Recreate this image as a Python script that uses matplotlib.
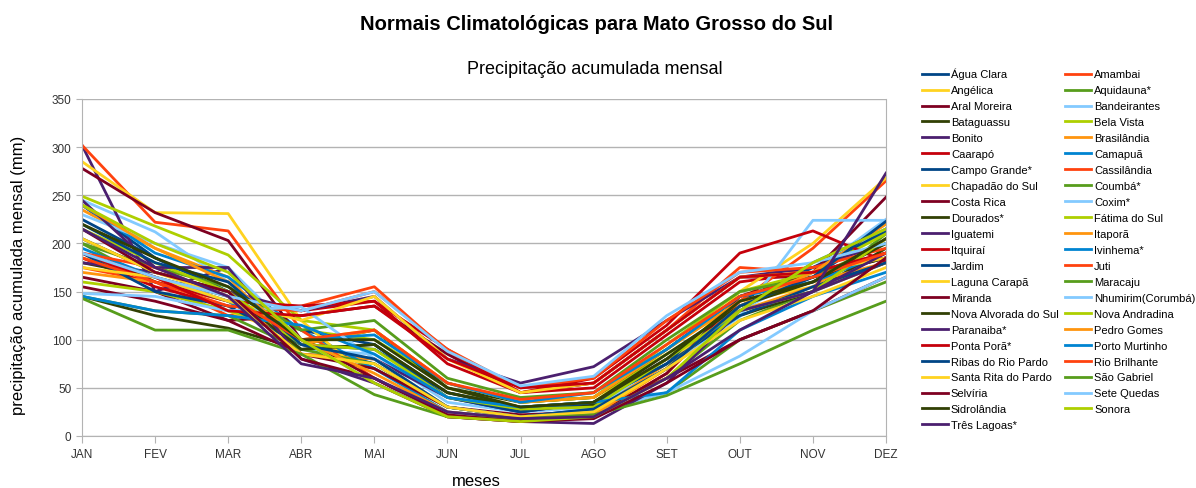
import matplotlib
matplotlib.use("Agg")
import matplotlib.pyplot as plt

plt.rcParams["font.family"] = ["Liberation Sans", "DejaVu Sans"]

meses = ["JAN", "FEV", "MAR", "ABR", "MAI", "JUN", "JUL", "AGO", "SET", "OUT", "NOV", "DEZ"]

estacoes = [
    "Água Clara", "Amambai", "Angélica", "Aquidauna*", "Aral Moreira", "Bandeirantes",
    "Bataguassu", "Bela Vista", "Bonito", "Brasilândia", "Caarapó", "Camapuã",
    "Campo Grande*", "Cassilândia", "Chapadão do Sul", "Coumbá*", "Costa Rica", "Coxim*",
    "Dourados*", "Fátima do Sul", "Iguatemi", "Itaporã", "Itquiraí", "Ivinhema*",
    "Jardim", "Juti", "Laguna Carapã", "Maracaju", "Miranda", "Nhumirim(Corumbá)",
    "Nova Alvorada do Sul", "Nova Andradina", "Paranaiba*", "Pedro Gomes", "Ponta Porã*",
    "Porto Murtinho", "Ribas do Rio Pardo", "Rio Brilhante", "Santa Rita do Pardo",
    "São Gabriel", "Selvíria", "Sete Quedas", "Sidrolândia", "Sonora", "Três Lagoas*",
]

# precipitação mensal (mm)
precip = [
    [240, 185, 150, 95, 75, 30, 20, 28, 70, 135, 165, 215],
    [175, 160, 125, 135, 155, 88, 45, 55, 110, 175, 170, 190],
    [185, 165, 130, 100, 110, 50, 30, 35, 90, 140, 155, 180],
    [200, 160, 140, 100, 70, 30, 20, 25, 60, 120, 150, 210],
    [165, 150, 120, 125, 135, 85, 45, 55, 110, 165, 165, 185],
    [245, 212, 160, 90, 85, 35, 25, 30, 75, 130, 170, 225],
    [145, 125, 112, 90, 95, 45, 28, 32, 80, 125, 150, 195],
    [160, 150, 130, 110, 100, 55, 35, 40, 85, 130, 150, 180],
    [302, 150, 175, 85, 80, 40, 25, 35, 80, 130, 150, 180],
    [235, 195, 165, 85, 80, 30, 20, 25, 75, 130, 155, 205],
    [185, 155, 135, 130, 140, 75, 45, 50, 105, 160, 170, 185],
    [240, 190, 165, 110, 70, 25, 18, 25, 70, 130, 180, 215],
    [225, 185, 150, 110, 95, 40, 25, 35, 75, 140, 175, 212],
    [302, 222, 213, 110, 60, 20, 15, 20, 65, 140, 195, 265],
    [285, 232, 231, 120, 55, 20, 18, 22, 70, 150, 200, 268],
    [145, 130, 125, 90, 75, 30, 20, 25, 45, 100, 130, 160],
    [278, 232, 203, 100, 60, 20, 15, 20, 65, 145, 170, 248],
    [230, 200, 175, 100, 55, 22, 18, 25, 70, 124, 224, 224],
    [180, 165, 145, 95, 110, 50, 35, 40, 90, 145, 165, 185],
    [249, 218, 188, 120, 110, 55, 35, 40, 95, 150, 170, 210],
    [180, 170, 150, 130, 145, 80, 55, 72, 120, 165, 175, 200],
    [170, 160, 140, 95, 110, 55, 35, 40, 90, 140, 160, 180],
    [190, 160, 140, 135, 140, 90, 45, 60, 115, 190, 213, 181],
    [195, 165, 140, 100, 105, 55, 35, 45, 90, 145, 160, 190],
    [190, 150, 135, 95, 90, 45, 30, 35, 75, 125, 155, 180],
    [185, 160, 135, 130, 150, 90, 50, 60, 120, 170, 175, 195],
    [175, 165, 140, 120, 145, 80, 45, 55, 110, 165, 170, 185],
    [200, 175, 155, 110, 120, 60, 40, 45, 100, 150, 165, 200],
    [155, 140, 120, 85, 70, 30, 22, 25, 60, 100, 130, 165],
    [148, 145, 130, 134, 80, 30, 20, 25, 45, 83, 130, 165],
    [205, 170, 150, 90, 95, 45, 30, 35, 85, 135, 160, 200],
    [215, 180, 150, 95, 90, 40, 28, 30, 80, 130, 150, 205],
    [245, 175, 175, 80, 55, 20, 15, 13, 55, 130, 150, 190],
    [240, 195, 160, 100, 65, 25, 18, 22, 70, 135, 170, 220],
    [190, 165, 130, 125, 135, 80, 50, 55, 110, 165, 170, 190],
    [145, 130, 125, 115, 85, 40, 30, 35, 45, 110, 145, 170],
    [220, 180, 160, 95, 80, 30, 20, 28, 70, 135, 165, 223],
    [190, 175, 145, 100, 110, 55, 38, 45, 95, 145, 165, 190],
    [205, 170, 145, 85, 75, 30, 20, 25, 70, 120, 145, 175],
    [143, 110, 110, 85, 43, 20, 18, 22, 42, 75, 110, 140],
    [215, 170, 150, 80, 60, 22, 15, 18, 55, 100, 130, 185],
    [190, 165, 145, 130, 150, 88, 52, 62, 125, 170, 180, 200],
    [220, 185, 155, 100, 100, 50, 30, 35, 80, 140, 160, 205],
    [240, 200, 170, 100, 55, 20, 15, 20, 60, 130, 180, 215],
    [215, 175, 145, 75, 60, 25, 18, 20, 60, 110, 150, 273],
]

paleta = ["#004586", "#ff420e", "#ffd320", "#579d1c", "#7e0021", "#83caff",
          "#314004", "#aecf00", "#4b1f6f", "#ff950e", "#c5000b", "#0084d1"]

fig = plt.figure(figsize=(11.96, 4.89), dpi=100)
ax = fig.add_axes([82 / 1196, 52 / 489, 804 / 1196, 337 / 489])

linhas = []
for i, (nome, vals) in enumerate(zip(estacoes, precip)):
    ln, = ax.plot(range(len(meses)), vals, color=paleta[i % len(paleta)],
                  linewidth=2, label=nome)
    linhas.append(ln)

ax.set_xlim(0, 11)
ax.set_ylim(0, 350)
ax.set_yticks(range(0, 351, 50))
ax.set_xticks(range(12))
ax.set_xticklabels(meses)
ax.grid(axis="y", color="#b3b3b3", linewidth=1)
ax.set_axisbelow(True)
for s in ["left", "bottom", "right"]:
    ax.spines[s].set_color("#b3b3b3")
ax.spines["top"].set_visible(False)
ax.tick_params(colors="#b3b3b3", labelcolor="#333333", labelsize=8.5, length=5)
ax.tick_params(axis="y", length=4)

fig.text(19 / 1196, 1 - 275 / 489, "precipitação acumulada mensal (mm)",
         rotation=90, ha="center", va="center", fontsize=12)
fig.text(476 / 1196, 1 - 482 / 489, "meses", ha="center", va="center", fontsize=12)

fig.text(597 / 1196, 1 - 25 / 489, "Normais Climatológicas para Mato Grosso do Sul",
         ha="center", va="center", fontsize=14.5, fontweight="bold")
fig.text(595 / 1196, 1 - 70 / 489, "Precipitação acumulada mensal",
         ha="center", va="center", fontsize=13)

# legenda preenchida por linhas (duas colunas)
ordem = list(range(0, 45, 2)) + list(range(1, 45, 2))
fig.legend([linhas[i] for i in ordem], [estacoes[i] for i in ordem],
           loc="upper left", bbox_to_anchor=(922 / 1196, 1 - 69 / 489),
           ncol=2, frameon=False, fontsize=8.0, labelspacing=0.535,
           handlelength=2.3, handletextpad=0.3, columnspacing=0.6,
           borderaxespad=0, borderpad=0)

plt.savefig("out.png", dpi=100)
